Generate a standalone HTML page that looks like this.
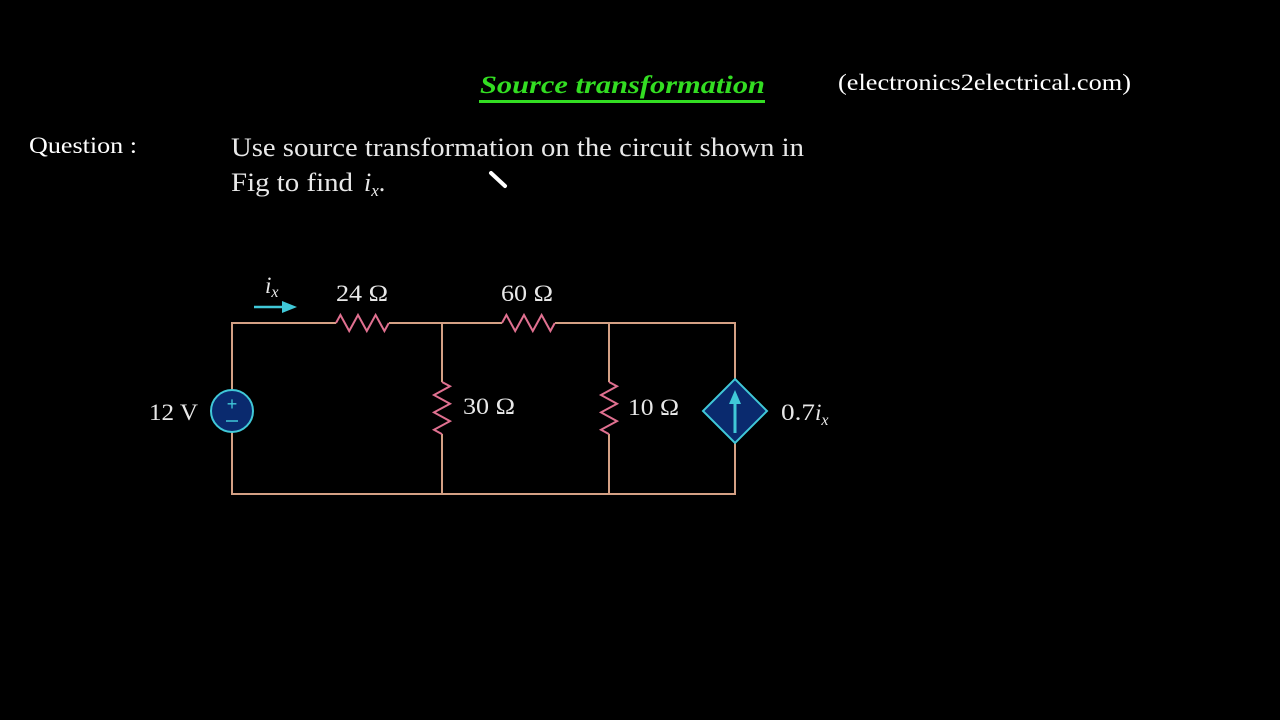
<!DOCTYPE html>
<html><head><meta charset="utf-8"><style>
html,body{margin:0;padding:0;background:#000;}
body{width:1280px;height:720px;overflow:hidden;position:relative;}
</style></head><body>
<svg width="1280" height="720" xmlns="http://www.w3.org/2000/svg" style="position:absolute;left:0;top:0">
<rect width="1280" height="720" fill="#000"/>
<text x="480" y="93" textLength="285" lengthAdjust="spacingAndGlyphs" font-family="Liberation Serif, serif" font-size="25" font-weight="bold" font-style="italic" fill="#33dd22">Source transformation</text>
<rect x="479" y="100" width="286" height="3" fill="#33dd22"/>
<text x="838" y="90" textLength="293" lengthAdjust="spacingAndGlyphs" font-family="Liberation Serif, serif" font-size="23" fill="#fff">(electronics2electrical.com)</text>
<text x="29" y="153" textLength="108" lengthAdjust="spacingAndGlyphs" font-family="Liberation Serif, serif" font-size="23" fill="#fff">Question :</text>
<text x="231" y="156" textLength="573" lengthAdjust="spacingAndGlyphs" font-family="Liberation Serif, serif" font-size="26" fill="#e8e8e8">Use source transformation on the circuit shown in</text>
<text x="231" y="191" textLength="122" lengthAdjust="spacingAndGlyphs" font-family="Liberation Serif, serif" font-size="26" fill="#e8e8e8">Fig  to find</text>
<text x="364" y="191" font-family="Liberation Serif, serif" font-size="26" fill="#e8e8e8"><tspan font-style="italic">i</tspan><tspan font-style="italic" font-size="17" dy="5">x</tspan><tspan dy="-5">.</tspan></text>
<line x1="491" y1="173" x2="505" y2="186" stroke="#fff" stroke-width="4" stroke-linecap="round"/>
<g fill="none" stroke="#d4a084" stroke-width="2">
<path d="M232 390 V323 H336 M389 323 H502 M555 323 H735 V379 M735 443 V494 H232 V432"/>
<path d="M442 323 V382 M442 434 V494 M609 323 V382 M609 434 V494"/>
</g>
<g fill="none" stroke="#e07090" stroke-width="2">
<path d="M336 323 l4.4 -8 l8.8 16 l8.8 -16 l8.8 16 l8.8 -16 l8.8 16 l4.4 -8"/>
<path d="M502 323 l4.4 -8 l8.8 16 l8.8 -16 l8.8 16 l8.8 -16 l8.8 16 l4.4 -8"/>
<path d="M442 382 l8 4.3 l-16 8.7 l16 8.7 l-16 8.7 l16 8.7 l-16 8.7 l8 4.3"/>
<path d="M609 382 l8 4.3 l-16 8.7 l16 8.7 l-16 8.7 l16 8.7 l-16 8.7 l8 4.3"/>
</g>
<circle cx="232" cy="411" r="21" fill="#0a2a6e" stroke="#40c8d8" stroke-width="2"/>
<text x="232" y="410" text-anchor="middle" font-family="Liberation Sans, sans-serif" font-size="18" fill="#40c8d8">+</text>
<line x1="226" y1="421" x2="238" y2="421" stroke="#40c8d8" stroke-width="1.5"/>
<path d="M735 379 L767 411 L735 443 L703 411 Z" fill="#0a2a6e" stroke="#40c8d8" stroke-width="2"/>
<line x1="735" y1="433" x2="735" y2="402" stroke="#40c8d8" stroke-width="3"/>
<path d="M729 404 L735 390 L741 404 Z" fill="#40c8d8"/>
<line x1="254" y1="307" x2="284" y2="307" stroke="#40c8d8" stroke-width="2.5"/>
<path d="M282 301 L297 307 L282 313 Z" fill="#40c8d8"/>
<g font-family="Liberation Serif, serif" font-size="23" fill="#e8e8e8">
<text x="265" y="293" font-style="italic">i<tspan font-size="16" dy="4">x</tspan></text>
<text x="336" y="301" textLength="52" lengthAdjust="spacingAndGlyphs">24 Ω</text>
<text x="501" y="301" textLength="52" lengthAdjust="spacingAndGlyphs">60 Ω</text>
<text x="149" y="420" textLength="49" lengthAdjust="spacingAndGlyphs">12 V</text>
<text x="463" y="414" textLength="52" lengthAdjust="spacingAndGlyphs">30 Ω</text>
<text x="628" y="415" textLength="51" lengthAdjust="spacingAndGlyphs">10 Ω</text>
<text x="781" y="420" textLength="34" lengthAdjust="spacingAndGlyphs">0.7</text>
<text x="815" y="420" font-style="italic">i<tspan font-size="16" dy="5">x</tspan></text>
</g>
</svg>
</body></html>
